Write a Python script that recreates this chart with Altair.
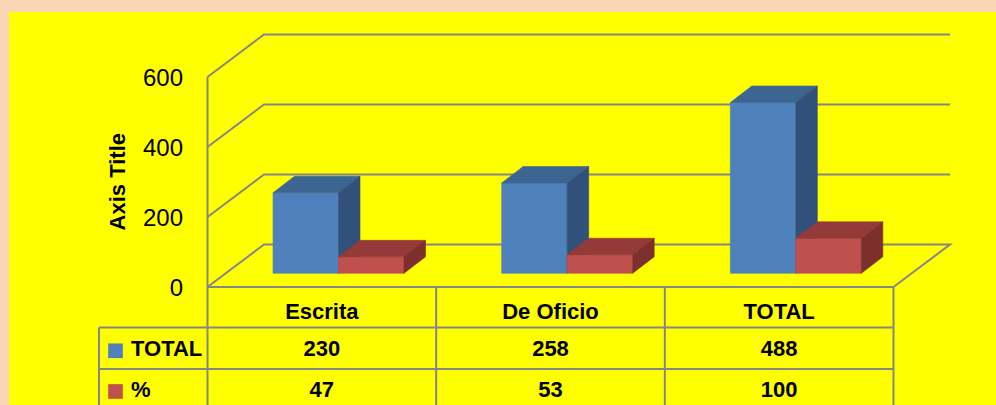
import altair as alt
import pandas as pd

# ---------------- data ----------------
categories = ["Escrita", "De Oficio", "TOTAL"]
series_names = ["TOTAL", "%"]
total_values = [230, 258, 488]
pct_values = [47, 53, 100]
y_ticks = [0, 200, 400, 600]
axis_title = "Axis Title"

# ---------------- style ----------------
BG = "#FCD5B4"
PANEL = "#FFFF00"
GRID = "#868686"
FRONT = {"TOTAL": "#4F81BD", "%": "#C0504D"}
TOP = {"TOTAL": "#3D6592", "%": "#943A38"}
SIDE = {"TOTAL": "#31517A", "%": "#7D2F2D"}
FONT = "Liberation Sans"

# ---------------- layout (pixel geometry -> data units) ----------------
W, H = 996, 405
X0, X3 = 207.5, 893.5          # front plane left / right edge
CW = (X3 - X0) / len(categories)
Y0 = 287.0                     # front floor line
K = 0.35                       # px per value unit


def ux(px):
    return (px - X0) / CW


def vy(py):
    return (Y0 - py) / K


DX = 56.5 / CW                 # full depth of the 3D box
DY = 42.5 / K
BAR_BASE = vy(273.3)
BAR_OFF = 65.5 / CW
BAR_W = 65.5 / CW
BDX = 21.5 / CW                # bar depth
BDY = 16.5 / K

XS = alt.Scale(domain=[ux(0), ux(W)], nice=False, zero=False)
YS = alt.Scale(domain=[vy(H), vy(0)], nice=False, zero=False)

# ---------------- tables ----------------
series_vals = {"TOTAL": total_values, "%": pct_values}

bars, tops, sides = [], [], []
for si, s in enumerate(series_names):
    for ci, c in enumerate(categories):
        v = series_vals[s][ci]
        left = ci + BAR_OFF + si * BAR_W
        right = left + BAR_W
        top = BAR_BASE + v
        bid = f"{s}-{c}"
        bars.append(dict(id=bid, s=s, left=left, right=right, base=BAR_BASE, top=top, col=FRONT[s]))
        tops.append(dict(id=bid, s=s, y=top, x=left, x2=right, col=TOP[s]))
        tops.append(dict(id=bid, s=s, y=top + BDY, x=left + BDX, x2=right + BDX, col=TOP[s]))
        sides.append(dict(id=bid, s=s, x=right, y=BAR_BASE, y2=top, col=SIDE[s]))
        sides.append(dict(id=bid, s=s, x=right + BDX, y=BAR_BASE + BDY, y2=top + BDY, col=SIDE[s]))
bars = pd.DataFrame(bars)
tops = pd.DataFrame(tops)
sides = pd.DataFrame(sides)

# grid lines (left wall + back wall + floor)
grid = []
n = len(categories)
for g in y_ticks:
    pts = [(0, g), (DX, g + DY), (n + DX, g + DY)]
    if g == 0:
        pts.append((n, 0))
    for k, (u, v) in enumerate(pts):
        grid.append(dict(gid=str(g), seq=k, u=u, v=v))
grid = pd.DataFrame(grid)

# table lines
ROW_TOP = vy(327.5)
ROW_MID = vy(369)
ROW_BOT = vy(H)
TBL_LEFT = ux(99)
hlines = pd.DataFrame([
    dict(x=0, x2=n, y=0, y2=0),
    dict(x=TBL_LEFT, x2=n, y=ROW_TOP, y2=ROW_TOP),
    dict(x=TBL_LEFT, x2=n, y=ROW_MID, y2=ROW_MID),
    dict(x=TBL_LEFT, x2=TBL_LEFT, y=ROW_BOT, y2=ROW_TOP),
    dict(x=0, x2=0, y=ROW_BOT, y2=max(y_ticks)),
] + [dict(x=i, x2=i, y=ROW_BOT, y2=0) for i in range(1, n + 1)])

panel = pd.DataFrame([dict(x=ux(9), x2=ux(W), y=vy(12), y2=vy(H))])

# texts
HEAD_Y = vy(311.7)
ROW_Y = {"TOTAL": vy(349.3), "%": vy(390)}
head_df = pd.DataFrame(dict(u=[i + 0.5 for i in range(n)], v=[HEAD_Y] * n, t=categories))
val_rows = []
for s in series_names:
    for ci in range(n):
        val_rows.append(dict(u=ci + 0.5, v=ROW_Y[s], t=str(series_vals[s][ci])))
val_df = pd.DataFrame(val_rows)
rowlab_df = pd.DataFrame(dict(u=[ux(131)] * 2, v=[ROW_Y[s] for s in series_names], t=series_names))
tick_df = pd.DataFrame(dict(u=[ux(183)] * len(y_ticks), v=y_ticks, t=[str(t) for t in y_ticks]))
title_df = pd.DataFrame(dict(u=[ux(118)], v=[vy(181.7)], t=[axis_title]))
key_df = pd.DataFrame(dict(u=[ux(115.5)] * 2, v=[ROW_Y[s] - 1.5 / K for s in series_names],
                           col=[FRONT[s] for s in series_names]))

# ---------------- layers ----------------
layers = []
layers.append(alt.Chart(panel).mark_rect(color=PANEL).encode(
    x=alt.X("x:Q", scale=XS, axis=None), x2="x2:Q",
    y=alt.Y("y:Q", scale=YS, axis=None), y2="y2:Q"))

layers.append(alt.Chart(grid).mark_line(color=GRID, strokeWidth=2).encode(
    x=alt.X("u:Q", scale=XS, axis=None), y=alt.Y("v:Q", scale=YS, axis=None),
    detail="gid:N", order="seq:Q"))

layers.append(alt.Chart(hlines).mark_rule(color=GRID, strokeWidth=2).encode(
    x=alt.X("x:Q", scale=XS, axis=None), x2="x2:Q",
    y=alt.Y("y:Q", scale=YS, axis=None), y2="y2:Q"))

for s in series_names:
    layers.append(alt.Chart(bars).transform_filter(alt.datum.s == s).mark_rect(strokeWidth=0.6).encode(
        x=alt.X("left:Q", scale=XS, axis=None), x2="right:Q",
        y=alt.Y("base:Q", scale=YS, axis=None), y2="top:Q",
        color=alt.Color("col:N", scale=None), stroke=alt.Stroke("col:N", scale=None)))
    layers.append(alt.Chart(tops).transform_filter(alt.datum.s == s).mark_area(
        orient="horizontal", strokeWidth=0.6).encode(
        y=alt.Y("y:Q", scale=YS, axis=None),
        x=alt.X("x:Q", scale=XS, axis=None), x2="x2:Q",
        detail="id:N", color=alt.Color("col:N", scale=None), stroke=alt.Stroke("col:N", scale=None)))
    layers.append(alt.Chart(sides).transform_filter(alt.datum.s == s).mark_area(
        orient="vertical", strokeWidth=0.6).encode(
        x=alt.X("x:Q", scale=XS, axis=None),
        y=alt.Y("y:Q", scale=YS, axis=None), y2="y2:Q",
        detail="id:N", color=alt.Color("col:N", scale=None), stroke=alt.Stroke("col:N", scale=None)))

enc = dict(x=alt.X("u:Q", scale=XS, axis=None), y=alt.Y("v:Q", scale=YS, axis=None), text="t:N")

layers.append(alt.Chart(tick_df).mark_text(font=FONT, fontSize=24, align="right", baseline="middle",
                                           color="black", dy=1.5).encode(**enc))
layers.append(alt.Chart(title_df).mark_text(font=FONT, fontSize=22, fontWeight="bold", angle=270,
                                            align="center", baseline="middle", color="black").encode(**enc))
layers.append(alt.Chart(head_df).mark_text(font=FONT, fontSize=22, fontWeight="bold", align="center",
                                           baseline="middle", color="black").encode(**enc))
layers.append(alt.Chart(val_df).mark_text(font=FONT, fontSize=22, fontWeight="bold", align="center",
                                          baseline="middle", color="black").encode(**enc))
layers.append(alt.Chart(rowlab_df).mark_text(font=FONT, fontSize=22, fontWeight="bold", align="left",
                                             baseline="middle", color="black").encode(**enc))
layers.append(alt.Chart(key_df).mark_square(size=215, opacity=1).encode(
    x=alt.X("u:Q", scale=XS, axis=None), y=alt.Y("v:Q", scale=YS, axis=None),
    color=alt.Color("col:N", scale=None)))

chart = alt.layer(*layers).properties(
    width=W, height=H, padding=0, background=BG,
    autosize=alt.AutoSizeParams(type="none"),
).configure_view(stroke=None)

chart.save("out.html", embed_options={"renderer": "svg", "actions": False})
